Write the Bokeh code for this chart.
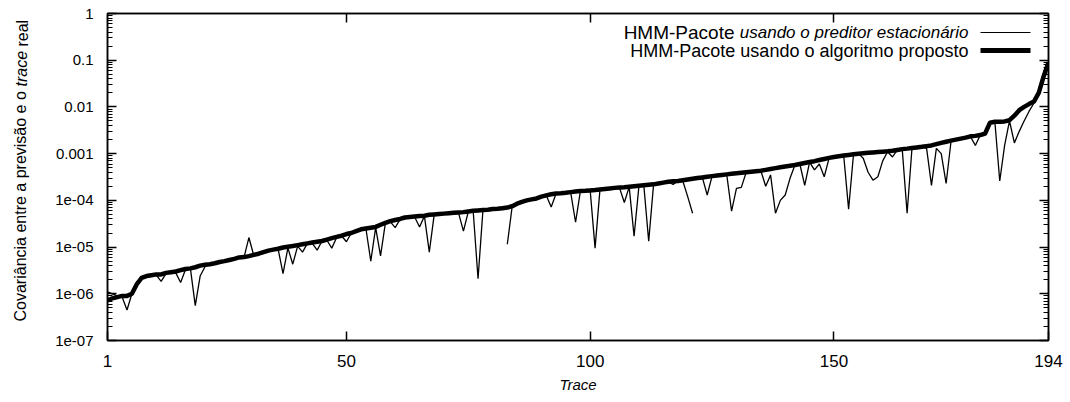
import math
from bokeh.plotting import figure
from bokeh.models import (FixedTicker, CustomJSTickFormatter, LogAxis, LinearAxis,
                          Label, BoxAnnotation, Range1d)
from bokeh.embed import file_html
from bokeh.resources import INLINE

nan = float("nan")

trace = list(range(1, 195))

proposto = [
    7.2e-7, 8.0e-7, 8.5e-7, 9.0e-7, 9.0e-7, 1.0e-6, 1.6e-6, 2.2e-6, 2.4e-6, 2.5e-6,
    2.6e-6, 2.6e-6, 2.8e-6, 2.9e-6, 3.0e-6, 3.2e-6, 3.4e-6, 3.5e-6, 3.7e-6, 4.0e-6,
    4.2e-6, 4.3e-6, 4.5e-6, 4.8e-6, 5.0e-6, 5.3e-6, 5.6e-6, 6.0e-6, 6.1e-6, 6.4e-6,
    6.8e-6, 7.2e-6, 7.8e-6, 8.4e-6, 8.8e-6, 9.2e-6, 9.8e-6, 1.02e-5, 1.05e-5, 1.1e-5,
    1.15e-5, 1.2e-5, 1.25e-5, 1.3e-5, 1.35e-5, 1.45e-5, 1.55e-5, 1.65e-5, 1.75e-5, 1.9e-5,
    2.0e-5, 2.2e-5, 2.4e-5, 2.5e-5, 2.6e-5, 2.7e-5, 3.0e-5, 3.3e-5, 3.6e-5, 3.8e-5,
    4.0e-5, 4.3e-5, 4.4e-5, 4.5e-5, 4.6e-5, 4.7e-5, 4.9e-5, 5.0e-5, 5.1e-5, 5.2e-5,
    5.3e-5, 5.4e-5, 5.5e-5, 5.6e-5, 5.8e-5, 6.0e-5, 6.1e-5, 6.2e-5, 6.3e-5, 6.5e-5,
    6.6e-5, 6.8e-5, 7.0e-5, 7.5e-5, 8.5e-5, 9.3e-5, 1.0e-4, 1.05e-4, 1.1e-4, 1.2e-4,
    1.28e-4, 1.35e-4, 1.4e-4, 1.42e-4, 1.45e-4, 1.5e-4, 1.55e-4, 1.58e-4, 1.6e-4, 1.63e-4,
    1.66e-4, 1.7e-4, 1.75e-4, 1.8e-4, 1.85e-4, 1.88e-4, 1.9e-4, 1.95e-4, 2.0e-4, 2.05e-4,
    2.1e-4, 2.15e-4, 2.2e-4, 2.3e-4, 2.4e-4, 2.5e-4, 2.55e-4, 2.6e-4, 2.7e-4, 2.8e-4,
    2.9e-4, 3.0e-4, 3.1e-4, 3.2e-4, 3.3e-4, 3.4e-4, 3.5e-4, 3.6e-4, 3.7e-4, 3.8e-4,
    3.9e-4, 4.0e-4, 4.1e-4, 4.2e-4, 4.3e-4, 4.5e-4, 4.7e-4, 4.9e-4, 5.1e-4, 5.3e-4,
    5.5e-4, 5.7e-4, 6.0e-4, 6.3e-4, 6.6e-4, 6.9e-4, 7.3e-4, 7.7e-4, 8.1e-4, 8.5e-4,
    8.8e-4, 9.1e-4, 9.4e-4, 9.7e-4, 1.0e-3, 1.02e-3, 1.04e-3, 1.06e-3, 1.08e-3, 1.1e-3,
    1.12e-3, 1.15e-3, 1.2e-3, 1.25e-3, 1.28e-3, 1.32e-3, 1.36e-3, 1.4e-3, 1.45e-3, 1.5e-3,
    1.6e-3, 1.7e-3, 1.8e-3, 1.9e-3, 2.0e-3, 2.1e-3, 2.2e-3, 2.35e-3, 2.4e-3, 2.5e-3,
    2.7e-3, 4.6e-3, 4.8e-3, 4.8e-3, 4.9e-3, 5.2e-3, 6.5e-3, 8.5e-3, 1.0e-2, 1.15e-2,
    1.3e-2, 2.0e-2, 4.5e-2, 9.0e-2,
]

estacionario = [
    1.1e-6, 1.0e-6, 9.0e-7, 8.5e-7, 4.5e-7, 1.0e-6, 1.8e-6, 2.2e-6, 2.3e-6, 2.5e-6,
    2.5e-6, 1.85e-6, 2.7e-6, 2.9e-6, 2.8e-6, 1.75e-6, 3.3e-6, 3.5e-6, 5.6e-7, 2.4e-6,
    3.8e-6, 4.3e-6, 4.4e-6, 4.8e-6, 5.0e-6, 5.2e-6, 5.6e-6, 5.9e-6, 6.0e-6, 1.6e-5,
    6.6e-6, 7.2e-6, 7.6e-6, 8.4e-6, 8.7e-6, 9.0e-6, 2.7e-6, 9.6e-6, 4.3e-6, 1.05e-5,
    7.8e-6, 1.2e-5, 1.2e-5, 8.6e-6, 1.35e-5, 1.4e-5, 9.5e-6, 1.6e-5, 1.75e-5, 1.3e-5,
    2.0e-5, 2.1e-5, 2.4e-5, 2.5e-5, 5.0e-6, 2.6e-5, 6.5e-6, 3.3e-5, 3.5e-5, 2.6e-5,
    3.9e-5, 4.2e-5, 4.4e-5, 4.4e-5, 2.7e-5, 4.6e-5, 7.8e-6, 4.9e-5, 5.0e-5, 5.2e-5,
    5.2e-5, 5.4e-5, 5.4e-5, 2.2e-5, 5.7e-5, 5.9e-5, 2.1e-6, 6.1e-5, 6.3e-5, 6.4e-5,
    6.6e-5, nan, 1.15e-5, 7.4e-5, 8.4e-5, 9.2e-5, 1.0e-4, 1.04e-4, 1.1e-4, 1.18e-4,
    1.27e-4, 7.2e-5, 1.38e-4, 1.42e-4, 1.44e-4, 1.48e-4, 3.4e-5, 1.6e-4, 1.55e-4, 1.62e-4,
    9.5e-6, 1.68e-4, 1.74e-4, 1.8e-4, 1.84e-4, 1.87e-4, 9.0e-5, 1.94e-4, 1.7e-5, 2.04e-4,
    2.08e-4, 1.33e-5, 2.2e-4, 2.3e-4, 2.4e-4, 2.5e-4, 2.2e-4, 2.6e-4, 2.6e-4, 1.2e-4,
    5.3e-5, nan, 3.1e-4, 1.3e-4, 3.3e-4, 3.4e-4, 3.5e-4, 3.6e-4, 5.9e-5, 1.8e-4,
    1.9e-4, 4.0e-4, 4.1e-4, 4.2e-4, 4.3e-4, 2.0e-4, 3.5e-4, 5.3e-5, 1.0e-4, 1.3e-4,
    3.0e-4, 5.7e-4, 6.0e-4, 2.1e-4, 6.6e-4, 4.5e-4, 6.0e-4, 3.2e-4, 8.0e-4, 8.5e-4,
    8.8e-4, 9.0e-4, 6.5e-5, 9.5e-4, 1.0e-3, 8.0e-4, 4.0e-4, 2.7e-4, 3.2e-4, 7.0e-4,
    1.1e-3, 8.5e-4, 1.2e-3, 1.25e-3, 5.3e-5, 1.3e-3, 1.36e-3, 1.4e-3, 1.3e-3, 2.1e-4,
    1.3e-3, 1.0e-3, 2.3e-4, 1.8e-3, 2.0e-3, 2.1e-3, 2.2e-3, 2.3e-3, 1.5e-3, 2.5e-3,
    2.7e-3, 4.6e-3, 4.8e-3, 2.6e-4, 1.5e-3, 5.0e-3, 1.7e-3, 3.0e-3, 5.0e-3, 8.0e-3,
    1.2e-2, 2.0e-2, 4.5e-2, 9.0e-2,
]

x_ticks = [1, 50, 100, 150, 194]
y_tick_exps = [-7, -6, -5, -4, -3, -2, -1, 0]
y_tick_labels = ["1e-07", "1e-06", "1e-05", "1e-04", "0.001", "0.01", "0.1", "1"]

label_stationary_a = "HMM-Pacote"
label_stationary_b = "usando o preditor estacionário"
label_proposed = "HMM-Pacote usando o algoritmo proposto"
ylabel_parts = ["Covariância entre a previsão e o", "trace", "real"]
xlabel = "Trace"

FONT = "Liberation Sans"

p = figure(width=1070, height=402, y_axis_type="log",
           x_range=Range1d(1, 194), y_range=Range1d(1e-7, 1),
           output_backend="svg", toolbar_location=None,
           min_border_left=107, min_border_right=22,
           min_border_top=13, min_border_bottom=62)
p.xgrid.visible = False
p.ygrid.visible = False
p.outline_line_color = "black"
p.outline_line_width = 1.5
p.background_fill_color = "white"
p.border_fill_color = "white"

y_major = [10.0 ** e for e in y_tick_exps]
y_minor = [k * 10.0 ** e for e in y_tick_exps[:-1] for k in range(2, 10)]
yticker = FixedTicker(ticks=y_major, minor_ticks=y_minor)
yfmt = CustomJSTickFormatter(args=dict(exps=y_tick_exps, labs=y_tick_labels), code="""
const e = Math.round(Math.log10(tick));
const i = exps.indexOf(e);
return i >= 0 ? labs[i] : "";
""")
blankfmt = CustomJSTickFormatter(code="return '';")

def style_axis(ax):
    ax.axis_line_color = "black"
    ax.axis_line_width = 1.5
    ax.major_tick_line_color = "black"
    ax.major_tick_line_width = 1.5
    ax.minor_tick_line_color = "black"
    ax.minor_tick_line_width = 1.2
    ax.major_tick_in = 9
    ax.major_tick_out = 0
    ax.minor_tick_in = 5
    ax.minor_tick_out = 0
    ax.major_label_text_color = "black"
    ax.major_label_text_font = FONT

ya = p.yaxis[0]
ya.ticker = yticker
ya.formatter = yfmt
style_axis(ya)
ya.major_label_text_font_size = "15px"
ya.major_label_standoff = 14

xa = p.xaxis[0]
xa.ticker = FixedTicker(ticks=x_ticks)
style_axis(xa)
xa.major_label_text_font_size = "17px"
xa.major_label_standoff = 14
xa.axis_label = xlabel
xa.axis_label_text_font = FONT
xa.axis_label_text_font_style = "italic"
xa.axis_label_text_font_size = "15px"
xa.axis_label_text_color = "black"
xa.axis_label_standoff = 6

ry = LogAxis(ticker=yticker, formatter=blankfmt)
style_axis(ry)
ry.major_label_text_font_size = "0px"
ry.major_label_standoff = 0
p.add_layout(ry, "right")

tx = LinearAxis(ticker=FixedTicker(ticks=x_ticks[1:-1]), formatter=blankfmt)
style_axis(tx)
tx.major_label_text_font_size = "0px"
tx.major_label_standoff = 0
p.add_layout(tx, "above")

p.line(trace, estacionario, line_color="black", line_width=1.3)
p.line(trace, proposto, line_color="black", line_width=4.5, line_join="round")

# y-axis label (mixed style) built from pieces, rotated, in the left panel
ysz = 16
y0 = 19
lab_specs = [(ylabel_parts[0], "normal", 0, -15),
             (ylabel_parts[1], "italic", 235, 3),
             (ylabel_parts[2], "normal", 275, 21)]
for txt, style, off, dx in lab_specs:
    p.add_layout(Label(x=dx, y=y0 + off, x_units="screen", y_units="screen", text=txt,
                       angle=math.pi / 2, text_align="left", text_baseline="middle",
                       text_font=FONT, text_font_size=f"{ysz}px", text_font_style=style,
                       text_color="black"), "left")

# legend (gnuplot style: text then sample)
p.add_layout(Label(x=861, y=308, x_units="screen", y_units="screen", text=label_stationary_b,
                   text_align="right", text_baseline="middle", text_font=FONT,
                   text_font_size="17px", text_font_style="italic", text_color="black"))
p.add_layout(Label(x=627, y=308, x_units="screen", y_units="screen", text=label_stationary_a,
                   text_align="right", text_baseline="middle", text_font=FONT,
                   text_font_size="19px", text_color="black"))
p.add_layout(Label(x=861, y=290, x_units="screen", y_units="screen", text=label_proposed,
                   text_align="right", text_baseline="middle", text_font=FONT,
                   text_font_size="18px", text_color="black"))
p.add_layout(BoxAnnotation(left=873, right=923, bottom=307.4, top=308.6,
                           left_units="screen", right_units="screen",
                           bottom_units="screen", top_units="screen",
                           fill_color="black", fill_alpha=1, line_alpha=0))
p.add_layout(BoxAnnotation(left=873, right=923, bottom=287.5, top=292.5,
                           left_units="screen", right_units="screen",
                           bottom_units="screen", top_units="screen",
                           fill_color="black", fill_alpha=1, line_alpha=0))

open("out.html", "w").write(file_html(p, INLINE))
